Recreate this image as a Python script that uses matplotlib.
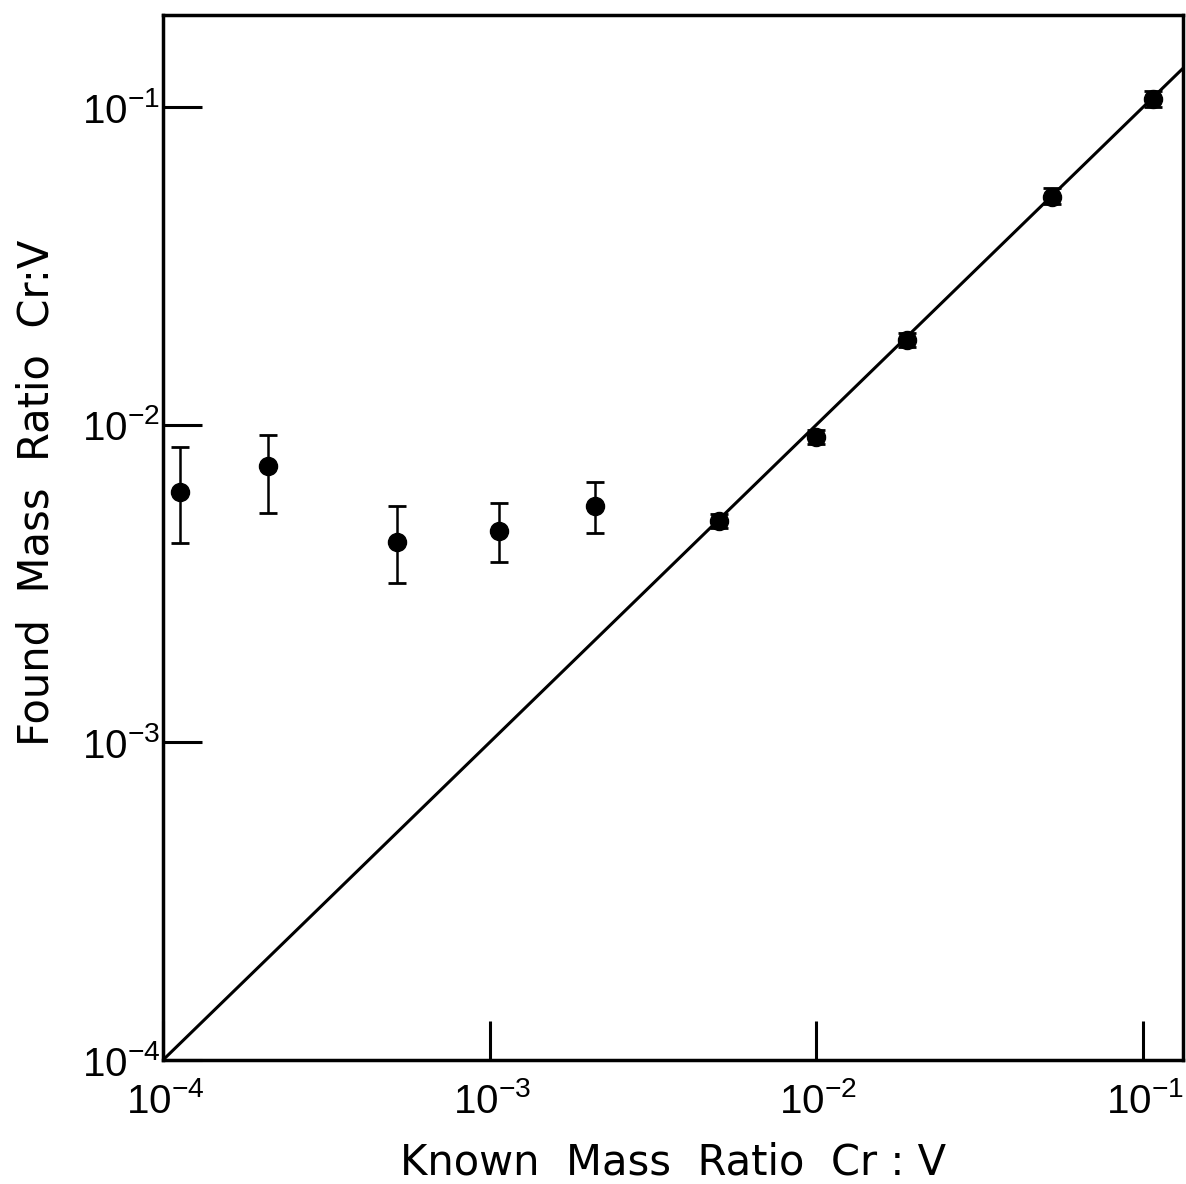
import numpy as np
import matplotlib
matplotlib.use("Agg")
import matplotlib.pyplot as plt
import matplotlib.transforms as mtransforms
from matplotlib.ticker import LogLocator, NullLocator, FuncFormatter

known = [1.13e-4, 2.1e-4, 5.2e-4, 1.07e-3, 2.1e-3, 5.05e-3, 1.0e-2, 1.9e-2, 5.25e-2, 1.07e-1]
found = [6.15e-3, 7.4e-3, 4.27e-3, 4.64e-3, 5.55e-3, 4.98e-3, 9.16e-3, 1.85e-2, 5.22e-2, 1.06e-1]
err_hi = [8.5e-3, 9.3e-3, 5.55e-3, 5.67e-3, 6.6e-3, 5.25e-3, 9.6e-3, 1.94e-2, 5.55e-2, 1.12e-1]
err_lo = [4.25e-3, 5.27e-3, 3.18e-3, 3.7e-3, 4.56e-3, 4.72e-3, 8.7e-3, 1.76e-2, 4.95e-2, 1.0e-1]

# ideal line found = known
ideal = [1e-4, 0.3]

tickfont = 'Liberation Sans'
plt.rcParams['font.family'] = ['DejaVu Sans']
plt.rcParams['mathtext.fontset'] = 'custom'
plt.rcParams['mathtext.rm'] = tickfont
plt.rcParams['mathtext.it'] = tickfont
plt.rcParams['mathtext.bf'] = tickfont

fig = plt.figure(figsize=(11.86, 11.84), dpi=100)
ax = fig.add_axes([163/1186, 1 - 1060/1184, (1183 - 163)/1186, (1060 - 15)/1184])

ax.plot(ideal, ideal, color='black', linewidth=2.2)

yerr = [np.array(found) - np.array(err_lo), np.array(err_hi) - np.array(found)]
ax.errorbar(known, found, yerr=yerr, fmt='o', color='black', markersize=13,
            elinewidth=1.8, capsize=6.5, capthick=2.0)

ax.set_xscale('log')
ax.set_yscale('log')
ax.set_xlim(1e-4, 0.1325)
ax.set_ylim(1e-4, 0.195)

ax.xaxis.set_major_locator(LogLocator(base=10, numticks=10))
ax.yaxis.set_major_locator(LogLocator(base=10, numticks=10))
ax.xaxis.set_minor_locator(NullLocator())
ax.yaxis.set_minor_locator(NullLocator())
fmt = FuncFormatter(lambda v, p: r'$\mathrm{10^{%d}}$' % int(round(np.log10(v))))
ax.xaxis.set_major_formatter(fmt)
ax.yaxis.set_major_formatter(fmt)

ax.tick_params(which='major', direction='in', length=28, width=2.2,
               labelsize=29, top=False, right=False)
ax.tick_params(axis='y', pad=2)
ax.tick_params(axis='x', pad=16)

# nudge x tick labels right a little so the exponent hangs past the tick
shift = mtransforms.ScaledTranslation(2/100, 0, fig.dpi_scale_trans)
for lab in ax.get_xticklabels():
    lab.set_transform(lab.get_transform() + shift)

for s in ax.spines.values():
    s.set_linewidth(2.5)

ax.set_xlabel('Known  Mass  Ratio  Cr : V', fontsize=30)
ax.xaxis.set_label_coords(0.5, -0.078)
ax.set_ylabel('Found  Mass  Ratio  Cr:V', fontsize=30)
ax.yaxis.set_label_coords(-0.103, 0.543)

fig.savefig('out.png', dpi=100, facecolor='white')
